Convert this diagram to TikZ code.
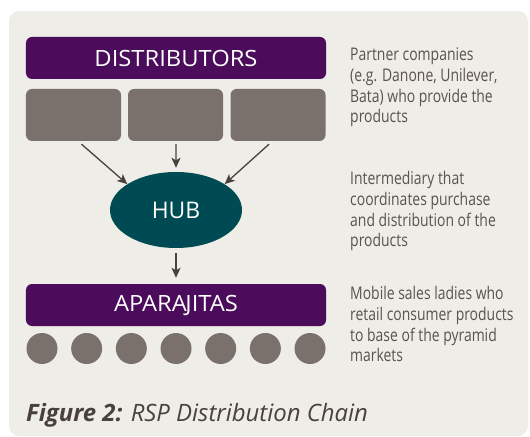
\documentclass[tikz,border=0pt]{standalone}
\usepackage{fontspec}
\setmainfont{Open Sans}
\newfontfamily\condfont[FakeStretch=0.8]{Open Sans}
\newfontfamily\widefont[FakeStretch=1.06]{Open Sans}
\usetikzlibrary{arrows.meta,calc,shapes.geometric}
\definecolor{panelbg}{HTML}{EEEDE7}
\definecolor{barpurple}{HTML}{4B0C5B}
\definecolor{boxgray}{HTML}{7B716C}
\definecolor{hubteal}{HTML}{004A54}
\definecolor{txtgray}{HTML}{5B524D}
\definecolor{arrcol}{HTML}{4A403D}
\begin{document}
\begin{tikzpicture}[x=1bp,y=-1bp,
  bar/.style={rectangle, rounded corners=6bp, fill=barpurple, text=white,
    minimum width=300bp, minimum height=42bp, inner sep=0pt,
    font=\widefont\fontsize{22.5}{24}\selectfont},
  graybox/.style={rectangle, rounded corners=6bp, fill=boxgray,
    minimum width=95bp, minimum height=52bp, inner sep=0pt},
  hubnode/.style={ellipse, fill=hubteal, text=white, minimum width=132bp,
    minimum height=76bp, inner sep=0pt, font=\fontsize{23}{25}\selectfont},
  dot/.style={circle, fill=boxgray, minimum size=31bp, inner sep=0pt},
  desc/.style={anchor=north west, align=left, inner sep=0pt, text=txtgray,
    font=\condfont\fontsize{17.5}{20.7}\selectfont},
  arr/.style={draw=arrcol, line width=1.3bp, -{Stealth[length=10bp,width=9bp,inset=2.5bp]}}
]
\useasboundingbox (0,0) rectangle (530,437);
\fill[panelbg, rounded corners=10bp] (9,11) rectangle (528,436);

\node[bar] (dist) at (176,58) {DISTRIBUTORS};
\node[graybox] (gl) at (73.5,115) {};
\node[graybox] (gm) at (175.5,115) {};
\node[graybox] (gr) at (278,115) {};
\node[hubnode] (hub) at (176,210) {HUB};
\node[bar] (apa) at (176,305) {APARA\kern-1.5bp JITAS};
\foreach \i in {0,...,6} {
  \node[dot] (c\i) at ({42+44.67*\i},348.5) {};
}

\coordinate (sl) at ($(gl.south)+(8,3)$);
\coordinate (sm) at ($(gm.south)+(0.5,3)$);
\coordinate (sr) at ($(gr.south)+(-9,3)$);
\draw[arr] (sl) -- (hub.152);
\draw[arr, shorten >=4bp] (sm) -- (hub.north);
\draw[arr] (sr) -- (hub.28);
\draw[arr, shorten <=5bp, shorten >=6bp] (hub.south) -- (apa.north);

\node[desc] (d1) at (350,48) {Partner companies\\(e.g. Danone, Unilever,\\Bata) who provide the\\products};
\node[desc] (d2) at (350,171.5) {Intermediary that\\coordinates purchase\\and distribution of the\\products};
\node[desc] (d3) at (350,286.5) {Mobile sales ladies who\\retail consumer products\\to base of the pyramid\\markets};

\node[anchor=base west, inner sep=0pt, text=arrcol, font=\fontsize{24}{26}\selectfont] (title) at (26,421.7)
  {\textbf{\textit{Figure 2:}} \textit{RSP Distribution Chain}};
\end{tikzpicture}
\end{document}
